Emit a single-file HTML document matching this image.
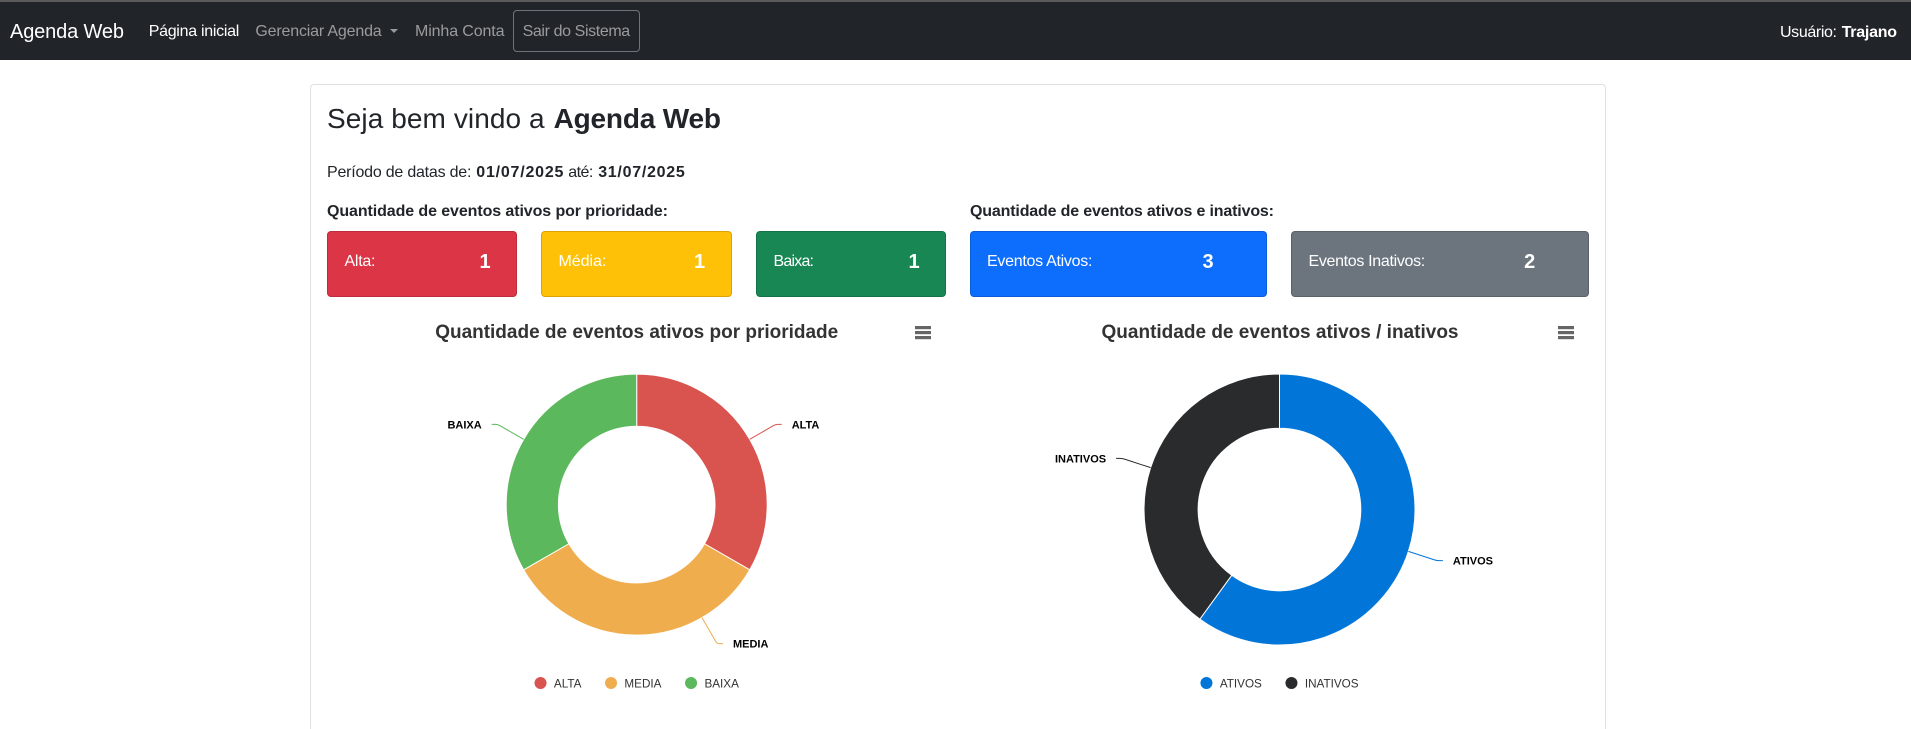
<!DOCTYPE html>
<html lang="pt-BR">
<head>
<meta charset="utf-8">
<title>Agenda Web</title>
<style>
html,body{margin:0;padding:0;width:1911px;height:729px;overflow:hidden;background:#fff;}
body{font-family:"Liberation Sans",sans-serif;color:#212529;position:relative;}
.t{position:absolute;white-space:nowrap;line-height:0;font-size:16px;}
a.t{text-decoration:none;cursor:pointer;}
#top-strip{position:absolute;left:0;top:0;width:1911px;height:2px;background:#5a5a5a;}
nav{position:absolute;left:0;top:2px;width:1911px;height:58px;background:#212529;}
.muted{color:#9a9b9d;}
.white{color:#fff;}
#logout{position:absolute;left:513px;top:8px;width:125px;height:40px;border:1px solid #6c757d;border-radius:4px;}
#caret{position:absolute;left:390px;top:26.5px;width:0;height:0;border-left:4px solid transparent;border-right:4px solid transparent;border-top:4px solid #9a9b9d;}
#card{position:absolute;left:310px;top:84px;width:1294px;height:644px;border:1px solid #dfe0e1;border-bottom:none;border-radius:4px 4px 0 0;box-sizing:content-box;}
.tile{position:absolute;top:231px;height:64px;border:1px solid rgba(0,0,0,.15);border-radius:4px;color:#fff;}
.tile .t{left:16.5px;top:29.5px;}
.tile .v{position:absolute;top:29.8px;width:40px;text-align:center;line-height:0;font-size:20px;font-weight:bold;}
svg.chart{position:absolute;top:300px;width:640px;height:429px;}
svg.chart text{font-family:"Liberation Sans",sans-serif;}
</style>
</head>
<body>
<div id="top-strip"></div>
<nav>
  <a class="t white" data-w="114" style="left:10px;top:30px;font-size:20px">Agenda Web</a>
  <a class="t white" data-w="90.6" style="left:148.7px;top:29.5px">Página inicial</a>
  <a class="t muted" data-w="126.3" style="left:255.4px;top:29.5px">Gerenciar Agenda</a>
  <div id="caret"></div>
  <a class="t muted" data-w="89.5" style="left:415px;top:29.5px">Minha Conta</a>
  <div id="logout"><span class="t muted" data-w="107.6" style="left:8.6px;top:21px">Sair do Sistema</span></div>
  <span class="t white" data-w="57" style="left:1780px;top:30.5px">Usuário:</span>
  <b class="t white" data-w="55.3" style="left:1841.7px;top:30.5px">Trajano</b>
</nav>
<div id="card"></div>

<span class="t" data-w="217.6" style="left:327px;top:119.3px;font-size:28px">Seja bem vindo a</span>
<b class="t" data-w="167.4" style="left:553.6px;top:119.3px;font-size:28px">Agenda Web</b>

<span class="t" data-w="144.4" style="left:327px;top:172.8px">Período de datas de:</span>
<b class="t" data-w="87.1" style="left:476.3px;top:172.8px">01/07/2025</b>
<span class="t" data-w="25" style="left:568.3px;top:172.8px">até:</span>
<b class="t" data-w="86.6" style="left:598.2px;top:172.8px">31/07/2025</b>

<b class="t" data-w="340.9" style="left:327px;top:212.3px">Quantidade de eventos ativos por prioridade:</b>
<b class="t" data-w="304" style="left:970px;top:212.3px">Quantidade de eventos ativos e inativos:</b>

<div class="tile" style="left:327px;width:188px;background:#dc3545">
  <span class="t" data-w="31">Alta:</span>
  <span class="v" style="left:137px">1</span>
</div>
<div class="tile" style="left:541px;width:189px;background:#ffc107">
  <span class="t" data-w="47.8">Média:</span>
  <span class="v" style="left:137.5px">1</span>
</div>
<div class="tile" style="left:756px;width:188px;background:#198754">
  <span class="t" data-w="40.5">Baixa:</span>
  <span class="v" style="left:137px">1</span>
</div>
<div class="tile" style="left:970px;width:295px;background:#0d6efd">
  <span class="t" data-w="105.4" style="left:16px">Eventos Ativos:</span>
  <span class="v" style="left:217px">3</span>
</div>
<div class="tile" style="left:1291px;width:296px;background:#6c757d">
  <span class="t" data-w="116.7">Eventos Inativos:</span>
  <span class="v" style="left:217.7px">2</span>
</div>

<svg id="chart-priority" class="chart" style="left:320px" viewBox="320 300 640 429">
  <text x="636.7" y="338" text-anchor="middle" font-size="19" font-weight="bold" fill="#333" textLength="403" lengthAdjust="spacing">Quantidade de eventos ativos por prioridade</text>
  <g fill="#666">
    <rect x="915" y="326" width="16" height="3.2"></rect>
    <rect x="915" y="331" width="16" height="3.2"></rect>
    <rect x="915" y="336" width="16" height="3.2"></rect>
  </g>
</svg>
<svg id="chart-status" class="chart" style="left:960px" viewBox="960 300 640 429">
  <text x="1280" y="338" text-anchor="middle" font-size="19" font-weight="bold" fill="#333" textLength="357" lengthAdjust="spacing">Quantidade de eventos ativos / inativos</text>
  <g fill="#666">
    <rect x="1558" y="326" width="16" height="3.2"></rect>
    <rect x="1558" y="331" width="16" height="3.2"></rect>
    <rect x="1558" y="336" width="16" height="3.2"></rect>
  </g>
</svg>

<script>
const priorityCategories = ['ALTA', 'MEDIA', 'BAIXA'];
const priorityValues = [1, 1, 1];
const priorityColors = ['#d9534f', '#f0ad4e', '#5cb85c'];
const priorityLabelShiftDeg = [0, -30, 0];

const statusCategories = ['ATIVOS', 'INATIVOS'];
const statusValues = [3, 2];
const statusColors = ['#0275d8', '#292b2c'];
const statusLabelShiftDeg = [0, 0];

const SVG_NS = 'http://www.w3.org/2000/svg';

function polar(cx, cy, r, deg) {
  const a = deg * Math.PI / 180;
  return [cx + r * Math.sin(a), cy - r * Math.cos(a)];
}

function slicePath(cx, cy, outer, inner, start, end) {
  const sweep = end - start;
  const clippedEnd = sweep >= 360 ? start + 359.99 : end;
  const large = clippedEnd - start > 180 ? 1 : 0;
  const p1 = polar(cx, cy, outer, start);
  const p2 = polar(cx, cy, outer, clippedEnd);
  const p3 = polar(cx, cy, inner, clippedEnd);
  const p4 = polar(cx, cy, inner, start);
  return 'M' + p1[0] + ' ' + p1[1] +
    'A' + outer + ' ' + outer + ' 0 ' + large + ' 1 ' + p2[0] + ' ' + p2[1] +
    'L' + p3[0] + ' ' + p3[1] +
    'A' + inner + ' ' + inner + ' 0 ' + large + ' 0 ' + p4[0] + ' ' + p4[1] + 'Z';
}

function drawDonut(svgId, prefix, categories, values, colors, shifts, cx, cy, outer, legendY) {
  const svg = document.getElementById(svgId);
  const inner = outer * 0.6;
  const total = values.reduce(function (s, v) { return s + v; }, 0);
  let angle = 0;

  categories.forEach(function (cat, i) {
    const start = angle;
    const end = angle + values[i] / total * 360;
    angle = end;
    const key = cat.toLowerCase();

    const slice = document.createElementNS(SVG_NS, 'path');
    slice.setAttribute('d', slicePath(cx, cy, outer, inner, start, end));
    slice.setAttribute('fill', colors[i]);
    slice.setAttribute('stroke', '#fff');
    slice.setAttribute('stroke-width', '1');
    
    
    svg.appendChild(slice);

    const mid = (start + end) / 2 + shifts[i];
    const side = Math.sin(mid * Math.PI / 180) >= 0 ? 1 : -1;
    const edge = polar(cx, cy, outer, mid);
    const elbow = polar(cx, cy, outer + 30, mid);
    const bend = polar(cx, cy, outer + 27, mid);

    const leader = document.createElementNS(SVG_NS, 'path');
    leader.setAttribute('d', 'M' + edge[0] + ' ' + edge[1] + 'L' + bend[0] + ' ' + bend[1] + 'Q' + elbow[0] + ' ' + elbow[1] + ' ' + (elbow[0] + side * 2) + ' ' + elbow[1] + 'L' + (elbow[0] + side * 6) + ' ' + elbow[1]);
    leader.setAttribute('fill', 'none');
    leader.setAttribute('stroke', colors[i]);
    leader.setAttribute('stroke-width', '1');
    
    
    svg.appendChild(leader);

    const label = document.createElementNS(SVG_NS, 'text');
    label.textContent = cat;
    label.setAttribute('x', elbow[0] + side * 16);
    label.setAttribute('y', elbow[1] + 4);
    label.setAttribute('text-anchor', side > 0 ? 'start' : 'end');
    label.setAttribute('font-size', '11');
    label.setAttribute('font-weight', 'bold');
    label.setAttribute('fill', '#000');
    
    
    svg.appendChild(label);
  });

  const legendTexts = categories.map(function (cat) {
    const text = document.createElementNS(SVG_NS, 'text');
    text.textContent = cat;
    text.setAttribute('y', legendY + 4.5);
    text.setAttribute('font-size', '11.7');
    text.setAttribute('fill', '#333');
    
    
    svg.appendChild(text);
    return text;
  });

  const markerSpace = 19.4;
  const itemGap = 23.6;
  const widths = legendTexts.map(function (t) { return t.getComputedTextLength(); });
  const totalWidth = widths.reduce(function (s, w) { return s + w + markerSpace; }, 0) + itemGap * (categories.length - 1);
  let x = cx - totalWidth / 2;

  categories.forEach(function (cat, i) {
    const marker = document.createElementNS(SVG_NS, 'circle');
    marker.setAttribute('cx', x + 6);
    marker.setAttribute('cy', legendY);
    marker.setAttribute('r', '6');
    marker.setAttribute('fill', colors[i]);
    
    
    svg.appendChild(marker);
    legendTexts[i].setAttribute('x', x + markerSpace);
    x += markerSpace + widths[i] + itemGap;
  });
}

drawDonut('chart-priority', 'priority', priorityCategories, priorityValues, priorityColors, priorityLabelShiftDeg, 636.7, 504.6, 130.5, 683);
drawDonut('chart-status', 'status', statusCategories, statusValues, statusColors, statusLabelShiftDeg, 1279.5, 509.5, 135.5, 683);

document.querySelectorAll('[data-w]').forEach(function (el) {
  const target = parseFloat(el.getAttribute('data-w'));
  const text = el.textContent;
  const natural = el.getBoundingClientRect().width;
  el.style.letterSpacing = ((target - natural) / Math.max(1, text.length - 1)) + 'px';
});
</script>
</body>
</html>
